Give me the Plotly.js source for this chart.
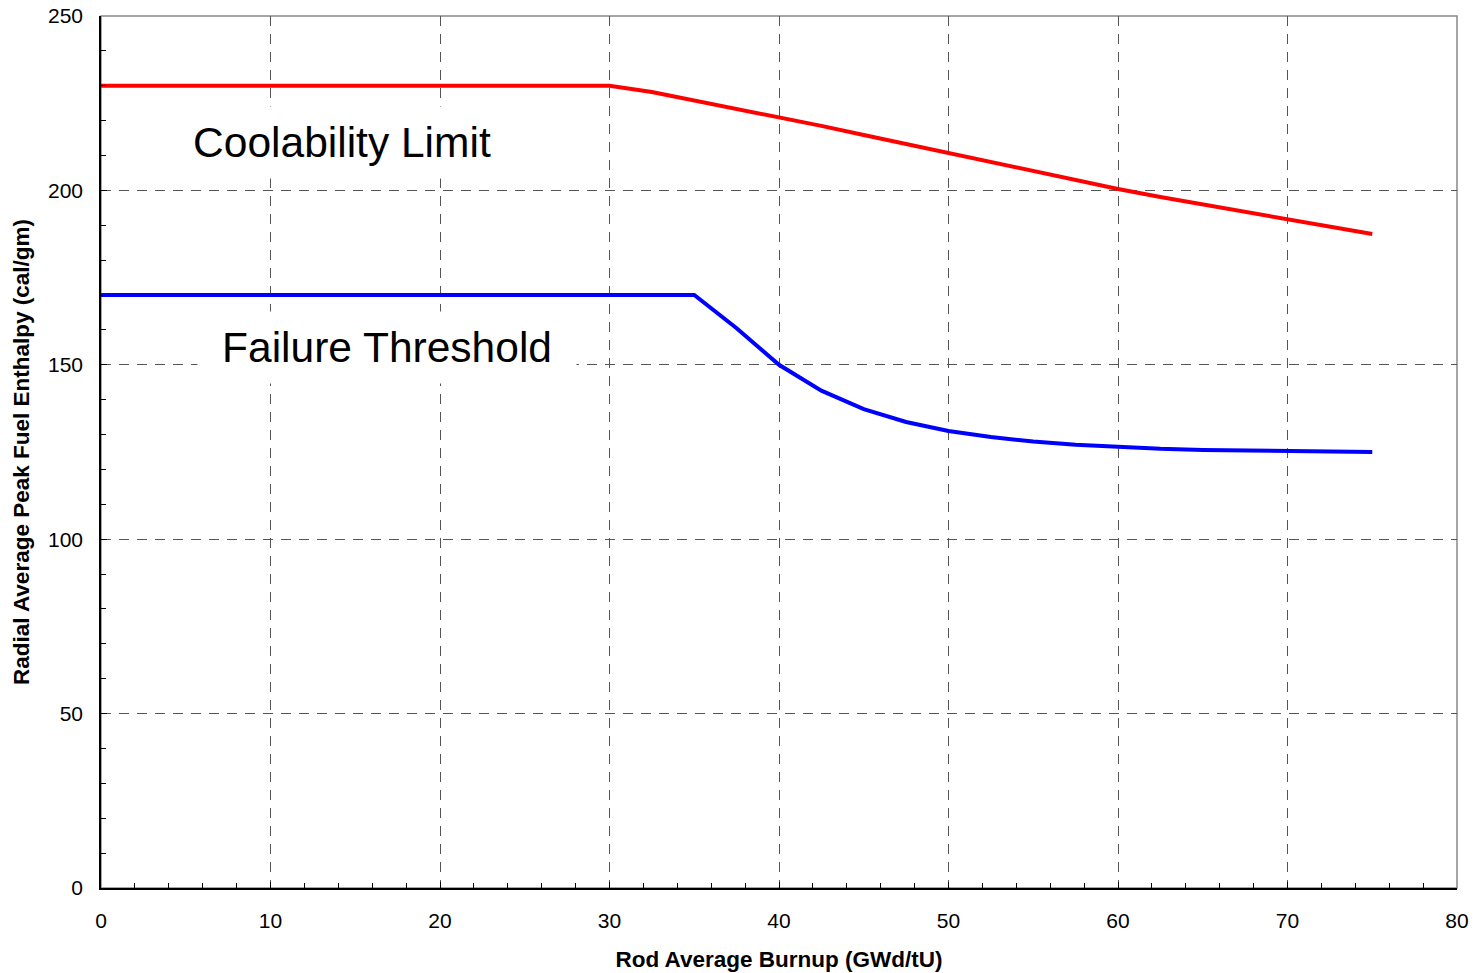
<!DOCTYPE html>
<html>
<head>
<meta charset="utf-8">
<script src="https://cdn.plot.ly/plotly-3.0.1.min.js"></script>
<style>html,body{margin:0;padding:0;background:#fff;}#chart{width:1477px;height:973px;}</style>
</head>
<body>
<div id="chart"></div>
<script>
const coolX = [0, 30, 32.5, 35, 37.5, 40, 42.5, 45, 47.5, 50, 52.5, 55, 57.5, 60, 62.5, 65, 67.5, 70, 72.5, 75];
const coolY = [230, 230, 228.2, 225.8, 223.4, 221.1, 218.5, 215.9, 213.3, 210.6, 208.1, 205.6, 203.0, 200.4, 198.1, 196.0, 193.8, 191.8, 189.6, 187.5];
const failX = [0, 35, 37.5, 40, 42.5, 45, 47.5, 50, 52.5, 55, 57.5, 60, 62.5, 65, 67.5, 70, 72.5, 75];
const failY = [170, 170, 160.5, 150, 142.6, 137.3, 133.6, 131.0, 129.3, 128.0, 127.1, 126.4, 125.9, 125.6, 125.4, 125.2, 125.1, 125.0];
const labels = ["Coolability Limit", "Failure Threshold"];
const xTitle = "Rod Average Burnup (GWd/tU)";
const yTitle = "Radial Average Peak Fuel Enthalpy (cal/gm)";

const font = "Arial, 'Liberation Sans', sans-serif";
const traces = [
  {x: coolX, y: coolY, mode: "lines", line: {color: "#ff0000", width: 4}, name: labels[0], hoverinfo: "skip"},
  {x: failX, y: failY, mode: "lines", line: {color: "#0000ff", width: 4}, name: labels[1], hoverinfo: "skip"}
];
const axisCommon = {
  showline: true, linecolor: "#000", linewidth: 1.8,
  ticks: "inside", ticklen: 6, tickcolor: "#000", tickwidth: 1,
  showgrid: true, gridcolor: "#555", gridwidth: 1, griddash: "10px,8px",
  zeroline: false,
  tickfont: {family: font, size: 21, color: "#000"}
};
const layout = {
  width: 1477, height: 973,
  margin: {l: 101, r: 20, t: 16, b: 85},
  paper_bgcolor: "#fff", plot_bgcolor: "#fff",
  showlegend: false,
  font: {family: font, color: "#000"},
  xaxis: Object.assign({}, axisCommon, {
    range: [0, 80], dtick: 10, tick0: 0, ticklabelstandoff: 13,
    minor: {dtick: 2, ticks: "inside", ticklen: 5, tickcolor: "#000", showgrid: false},
    title: {text: xTitle, font: {family: font, size: 22.5, color: "#000", weight: "bold"}, standoff: 20}
  }),
  yaxis: Object.assign({}, axisCommon, {
    range: [0, 250], dtick: 50, tick0: 0, ticklabelstandoff: 12,
    minor: {dtick: 10, ticks: "inside", ticklen: 5, tickcolor: "#000", showgrid: false},
    title: {text: yTitle, font: {family: font, size: 22.5, color: "#000", weight: "bold"}, standoff: 12}
  }),
  shapes: [
    {type: "rect", xref: "paper", yref: "paper", x0: 0, x1: 1, y0: 0, y1: 1,
     line: {color: "#888", width: 1.5}, layer: "below"}
  ],
  annotations: [
    {x: 14.22, y: 213.6, xref: "x", yref: "y", text: labels[0], showarrow: false,
     xanchor: "center", yanchor: "middle", bgcolor: "#fff", borderpad: 12, width: 322,
     font: {family: font, size: 42.5, color: "#000"}},
    {x: 16.9, y: 154.96, xref: "x", yref: "y", text: labels[1], showarrow: false,
     xanchor: "center", yanchor: "middle", bgcolor: "#fff", borderpad: 12, width: 354,
     font: {family: font, size: 42.5, color: "#000"}}
  ]
};
Plotly.newPlot("chart", traces, layout, {displayModeBar: false, staticPlot: true});
</script>
</body>
</html>
